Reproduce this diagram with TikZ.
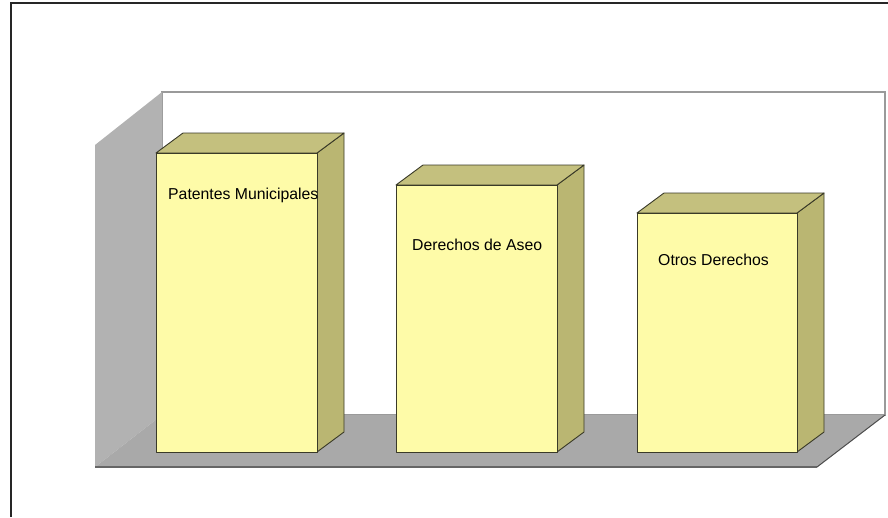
\documentclass[tikz,border=0pt]{standalone}
\usepackage{fontspec}
\setmainfont{Liberation Sans}
\definecolor{barfront}{HTML}{FEFBA8}
\definecolor{barside}{HTML}{BAB672}
\definecolor{bartop}{HTML}{C4C07E}
\definecolor{wallgray}{HTML}{B2B2B2}
\definecolor{floorgray}{HTML}{A9A9A9}
\definecolor{edgegray}{HTML}{9A9A9A}
\definecolor{baredge}{HTML}{3A3A28}
\tikzset{
  frontface/.style={fill=barfront, draw=baredge, line width=0.9pt, line join=round},
  sideface/.style={fill=barside, draw=baredge, line width=0.9pt, line join=round},
  topface/.style={fill=bartop, draw=baredge, line width=0.9pt, line join=round},
  barlabel/.style={font=\fontsize{15.8}{18}\selectfont, inner sep=0pt, anchor=west, text=black}
}
\begin{document}
\begin{tikzpicture}[x=1pt, y=-1pt]
\useasboundingbox (0,0) rectangle (888,517);
% outer frame
\draw[line width=1.3pt, black!85] (11,517) -- (11,3) -- (888,3);
% back wall
\draw[fill=white, draw=edgegray, line width=1.2pt] (162,92) rectangle (885,415);
% left wall
\fill[wallgray] (95,145) -- (162,92) -- (162,415) -- (95,467) -- cycle;
% floor
\fill[floorgray] (95,467) -- (162,415) -- (885,415) -- (817,467) -- cycle;
\draw[black!60, line width=1.6pt] (95,467) -- (817,467);
\draw[black!70, line width=1pt] (817,467) -- (885,415);
% bars: front x0,x1, top y; depth (27,-20); bottom 452
\foreach \xa/\xb/\yt in {156/317/153, 396/557/185, 637/797/213}{
  \path[sideface] (\xb,\yt) -- ({\xb+27},{\yt-20}) -- ({\xb+27},432) -- (\xb,452) -- cycle;
  \path[topface] (\xa,\yt) -- ({\xa+27},{\yt-20}) -- ({\xb+27},{\yt-20}) -- (\xb,\yt) -- cycle;
  \path[frontface] (\xa,\yt) rectangle (\xb,452);
}
\node[barlabel] (l1) at (168,195.5) {Patentes Municipales};
\node[barlabel] (l2) at (412,244.5) {Derechos de Aseo};
\node[barlabel] (l3) at (658,259.5) {Otros Derechos};
\end{tikzpicture}
\end{document}
